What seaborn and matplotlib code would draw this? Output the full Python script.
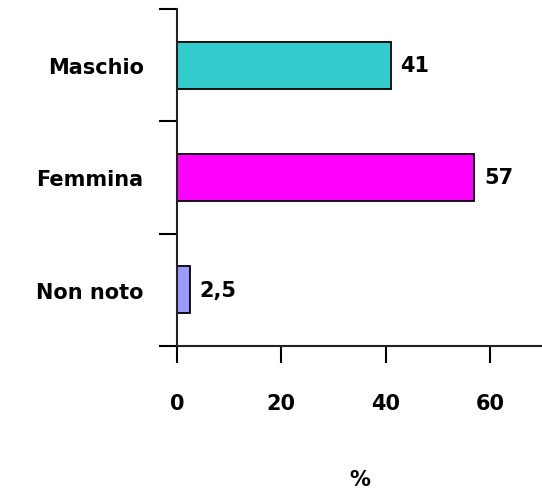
import pandas as pd
import seaborn as sns
import matplotlib.pyplot as plt

sns.set_theme(style="white")
plt.rcParams["font.family"] = ["DejaVu Sans"]
plt.rcParams["text.color"] = "black"
plt.rcParams["axes.labelcolor"] = "black"
plt.rcParams["xtick.color"] = "black"
plt.rcParams["ytick.color"] = "black"

categories = ["Maschio", "Femmina", "Non noto"]
values = [41, 57, 2.5]
value_labels = ["41", "57", "2,5"]
colors = ["#33CCCC", "#FF00FF", "#9999FF"]

df = pd.DataFrame({"categoria": categories, "percentuale": values})

fig = plt.figure(figsize=(5.42, 4.89), dpi=100)
ax = fig.add_axes([0.3266, 0.2904, 0.6734, 0.6892])

sns.barplot(data=df, y="categoria", x="percentuale", hue="categoria",
            palette=colors, saturation=1, orient="h", width=0.42,
            edgecolor="black", linewidth=1.3, legend=False, ax=ax)

ax.set_xlim(0, 70)
ax.set_ylim(2.5, -0.5)
ax.set_xticks([0, 20, 40, 60])
ax.set_xticklabels(["0", "20", "40", "60"], fontsize=15, fontweight="bold")
ax.tick_params(axis="x", length=12, width=1.5, pad=22, direction="out", bottom=True)

# boundaries as major ticks, category names as minor ticks
ax.set_yticks([-0.5, 0.5, 1.5, 2.5])
ax.set_yticklabels([])
ax.set_yticks([0, 1, 2], minor=True)
ax.set_yticklabels(categories, minor=True, fontsize=15, fontweight="bold")
ax.tick_params(axis="y", which="major", length=13, width=1.5, direction="out", left=True)
ax.tick_params(axis="y", which="minor", length=0, pad=24)

for s in ["top", "right"]:
    ax.spines[s].set_visible(False)
for s in ["left", "bottom"]:
    ax.spines[s].set_color("#222222")
    ax.spines[s].set_linewidth(1.5)

for i, (v, lab) in enumerate(zip(values, value_labels)):
    ax.annotate(lab, xy=(v, i), xytext=(7, 0), textcoords="offset points",
                va="center", ha="left", fontsize=15, fontweight="bold")

ax.set_xlabel("%", fontsize=15, fontweight="bold", labelpad=40)
ax.set_ylabel("")
ax.grid(False)

fig.savefig("out.png", dpi=100)
